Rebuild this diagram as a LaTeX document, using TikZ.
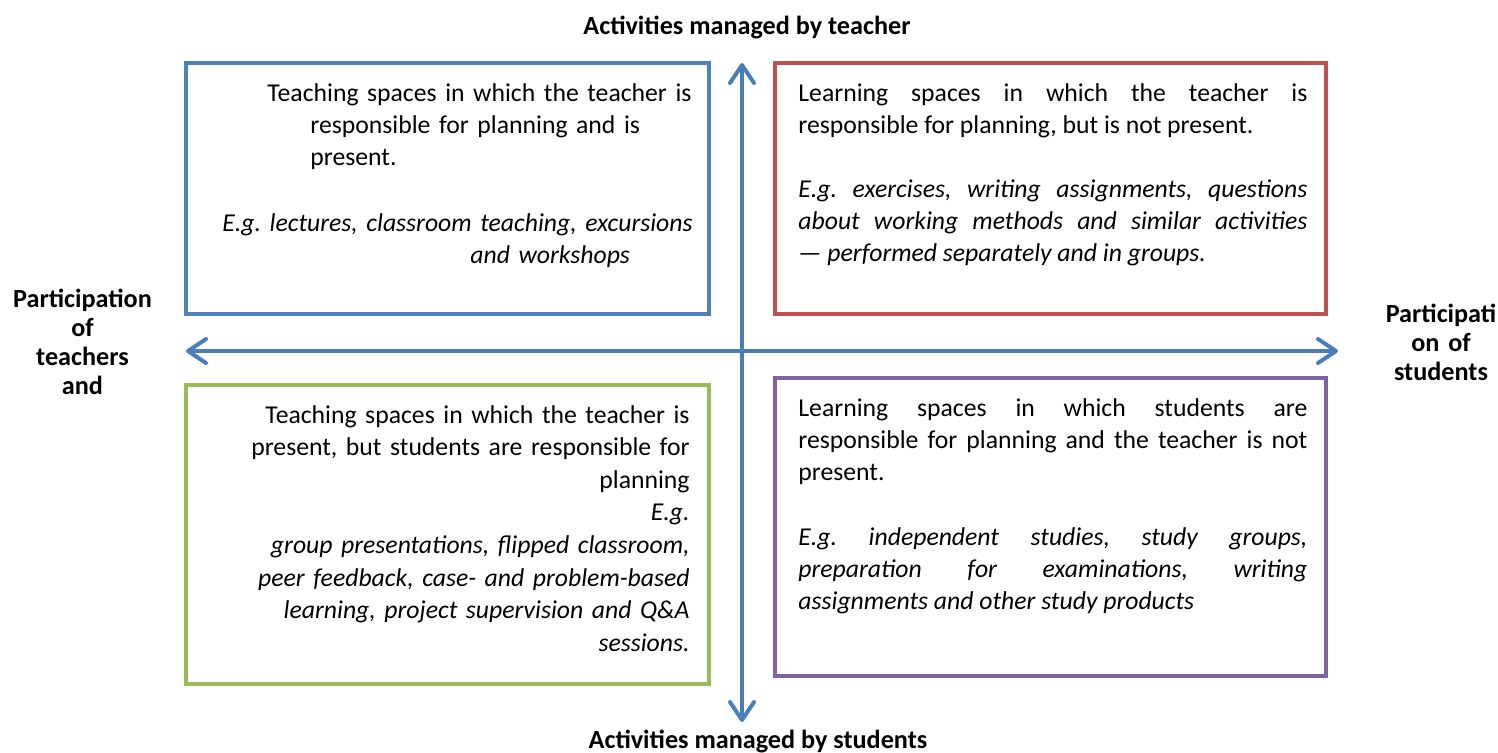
\documentclass[tikz,border=0pt]{standalone}
\usepackage{fontspec}
\setmainfont{Carlito}
\usetikzlibrary{arrows.meta}

\definecolor{boxblue}{RGB}{79,129,189}
\definecolor{boxred}{RGB}{192,80,77}
\definecolor{boxgreen}{RGB}{155,187,89}
\definecolor{boxpurple}{RGB}{128,100,162}
\definecolor{axisblue}{RGB}{74,126,187}

\tolerance=10000
\hbadness=10000
\frenchspacing

\begin{document}
\begin{tikzpicture}[
	x=0.5pt,
	y=-0.5pt,
	font=\fontsize{12.85}{16.2}\selectfont,
	quadrant/.style={
		rectangle,
		line width=2pt,
		inner sep=0pt
	},
	body/.style={
		inner sep=0pt,
		anchor=base west,
		text width=#1,
		align=left
	},
	example/.style={
		body=#1,
		font=\fontsize{12.85}{16.2}\selectfont\itshape
	},
	axis/.style={
		axisblue,
		line width=2pt,
		arrows={Straight Barb[length=9pt,width=12pt,round]-Straight Barb[length=9pt,width=12pt,round]}
	},
	axislabel/.style={
		inner sep=0pt,
		anchor=base,
		font=\fontsize{13.1}{14.5}\selectfont\bfseries,
		align=center
	},
]
\useasboundingbox (0,0) rectangle (1498,752);

% the four quadrants
\node[quadrant, draw=boxblue, minimum width=261.5pt, minimum height=125.5pt] (tl) at (447.5,188.5) {};
\node[quadrant, draw=boxred, minimum width=275.5pt, minimum height=125.5pt] (tr) at (1050.5,188.5) {};
\node[quadrant, draw=boxgreen, minimum width=261.5pt, minimum height=149.5pt] (bl) at (447.5,534.5) {};
\node[quadrant, draw=boxpurple, minimum width=275.5pt, minimum height=149pt] (br) at (1050.5,527) {};

% axes
\coordinate (top) at (742,63);
\coordinate (bottom) at (742,722);
\coordinate (left) at (186,351);
\coordinate (right) at (1338,351);

\draw[axis] (bottom) -- (top);
\draw[axis] (left) -- (right);

\node[axislabel] (toplabel) at (747,34) {Activities managed by teacher};
\node[axislabel] (bottomlabel) at (758,748) {Activities managed by students};
\node[axislabel, text width=80pt] (leftlabel) at (82.5,307) {Participation\\of\\teachers\\and};
\node[axislabel, text width=70pt] (rightlabel) at (1441,322) {Participati\\on of\\students};

% top left
\node[body=200pt] (tltext) at (310,101) {\hspace*{-21.5pt}Teaching spaces in which the teacher is\\responsible for planning and is\\present.};
\node[example=260pt] (tlex) at (222,231) {E.g. lectures, classroom teaching, excursions\\\hspace*{124pt}and workshops};

% top right
\node[body=254.5pt, align=justify] (trtext) at (798,101) {Learning spaces in which the teacher is\linebreak responsible for planning, but is not present.};
\node[example=254.5pt, align=justify] (trex) at (798,197) {E.g. exercises, writing assignments, questions\linebreak about working methods and similar activities\linebreak — performed separately and in groups.};

% bottom left
\node[body=230pt, anchor=base east, align=right, font=\fontsize{12.85}{16.3}\selectfont] (bltext) at (690,423) {Teaching spaces in which the teacher is\\present, but students are responsible for\\planning\\\itshape E.g.\\group presentations, flipped classroom,\\peer feedback, case- and problem-based\\learning, project supervision and Q\&A\\sessions.};

% bottom right
\node[body=254.5pt, align=justify] (brtext) at (798,416) {Learning spaces in which students are\linebreak responsible for planning and the teacher is not\linebreak present.};
\node[example=254.5pt, align=justify] (brex) at (798,545) {E.g. independent studies, study groups,\linebreak preparation for examinations, writing\linebreak assignments and other study products};

\end{tikzpicture}
\end{document}
